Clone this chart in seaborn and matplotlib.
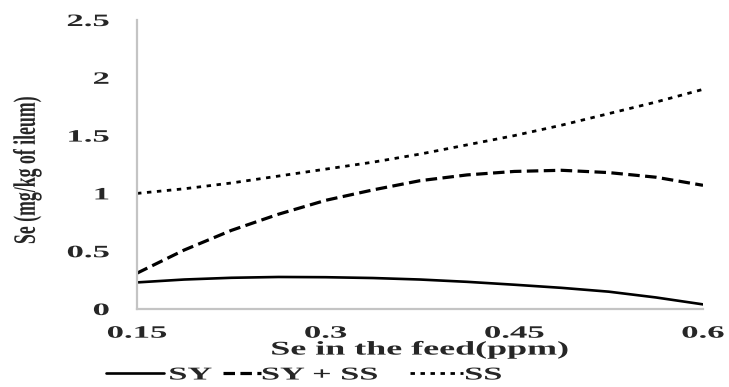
import matplotlib
matplotlib.use("Agg")
import matplotlib.pyplot as plt
from matplotlib.patheffects import AbstractPathEffect
from matplotlib.transforms import Affine2D
from matplotlib.lines import Line2D
import seaborn as sns
import pandas as pd

# Se in the feed (ppm)
feed = [0.15, 0.1875, 0.225, 0.2625, 0.30, 0.3375, 0.375,
        0.4125, 0.45, 0.4875, 0.525, 0.5625, 0.60]
# Se in ileum (mg/kg) for each source
sy = [0.23, 0.255, 0.27, 0.277, 0.275, 0.268, 0.255,
      0.235, 0.21, 0.183, 0.15, 0.10, 0.04]
sy_ss = [0.31, 0.51, 0.68, 0.82, 0.94, 1.03, 1.11,
         1.16, 1.19, 1.20, 1.18, 1.14, 1.07]
ss = [1.00, 1.04, 1.09, 1.15, 1.21, 1.27, 1.34,
      1.42, 1.50, 1.59, 1.69, 1.79, 1.90]

series_names = ["SY", "SY + SS", "SS"]
x_ticks = [0.15, 0.30, 0.45, 0.60]
x_tick_labels = ["0.15", "0.3", "0.45", "0.6"]
y_ticks = [0, 0.5, 1, 1.5, 2, 2.5]
y_tick_labels = ["0", "0.5", "1", "1.5", "2", "2.5"]


class Widen(AbstractPathEffect):
    """Stretch a text path horizontally around a reference edge."""

    def __init__(self, sx, anchor="center"):
        super().__init__()
        self.sx = sx
        self.anchor = anchor

    def draw_path(self, renderer, gc, tpath, affine, rgbFace=None):
        ext = tpath.get_extents(affine)
        if self.anchor == "left":
            ref = ext.x0
        elif self.anchor == "right":
            ref = ext.x1
        else:
            ref = 0.5 * (ext.x0 + ext.x1)
        stretch = Affine2D().translate(-ref, 0).scale(self.sx, 1).translate(ref, 0)
        renderer.draw_path(gc, tpath, affine + stretch, rgbFace)


sns.set_style("white")
plt.rcParams["font.family"] = ["Liberation Serif", "DejaVu Serif"]
plt.rcParams["font.weight"] = "bold"

df = pd.DataFrame({"feed": feed, "SY": sy, "SY + SS": sy_ss, "SS": ss})

fig = plt.figure(figsize=(7.29, 3.87), dpi=100)
ax = fig.add_axes([137 / 729, 1 - 309 / 387, 566 / 729, 289 / 387])

styles = {
    "SY": dict(linestyle="-", linewidth=1.9),
    "SY + SS": dict(linestyle=(0, (3.6, 1.7)), linewidth=2.3),
    "SS": dict(linestyle=(0, (1.6, 2.0)), linewidth=2.0),
}
for name in series_names:
    sns.lineplot(data=df, x="feed", y=name, ax=ax, color="black",
                 label=name, legend=False, **styles[name])

ax.set_xlim(0.15, 0.60)
ax.set_ylim(0, 2.5)
ax.set_xticks(x_ticks, x_tick_labels)
ax.set_yticks(y_ticks, y_tick_labels)
ax.set_xlabel("")
ax.set_ylabel("")

for side in ("top", "right"):
    ax.spines[side].set_visible(False)
for side in ("left", "bottom"):
    ax.spines[side].set_color("#c4c4c4")
    ax.spines[side].set_linewidth(1.6)

ax.tick_params(axis="y", direction="out", length=9, width=1.0, color="#c4c4c4",
               pad=11, labelsize=12.5)
ax.tick_params(axis="x", direction="out", length=3, width=1.0, color="#c4c4c4",
               pad=9, labelsize=12.5)
for lab in ax.get_yticklabels():
    lab.set_fontweight("bold")
    lab.set_path_effects([Widen(2.0, "right")])
for lab in ax.get_xticklabels():
    lab.set_fontweight("bold")
    lab.set_path_effects([Widen(2.0, "center")])

fig.text(420 / 729, 1 - 350 / 387, "Se in the feed(ppm)", ha="center", va="center",
         fontsize=14, fontweight="bold", path_effects=[Widen(1.85, "center")])
fig.text(27 / 729, 1 - 170 / 387, "Se (mg/kg of ileum)", ha="center", va="center",
         rotation=90, fontsize=12.8, fontweight="bold",
         path_effects=[Widen(1.75, "center")])

# One legend entry per series, laid out along the bottom edge
legend_spots = {"SY": (106, 3.2, 0.3), "SY + SS": (223, 2.1, 0.05), "SS": (410, 2.95, 0.1)}
for name in series_names:
    x0, hlen, pad = legend_spots[name]
    handle = Line2D([], [], color="black", **styles[name])
    leg = fig.legend([handle], [name], loc="center left",
                     bbox_to_anchor=(x0 / 729, 1 - 375 / 387), frameon=False,
                     borderpad=0, borderaxespad=0, handlelength=hlen,
                     handletextpad=pad, prop={"size": 13, "weight": "bold"})
    for t in leg.get_texts():
        t.set_path_effects([Widen(1.9, "left")])

fig.savefig("out.png", dpi=100)
